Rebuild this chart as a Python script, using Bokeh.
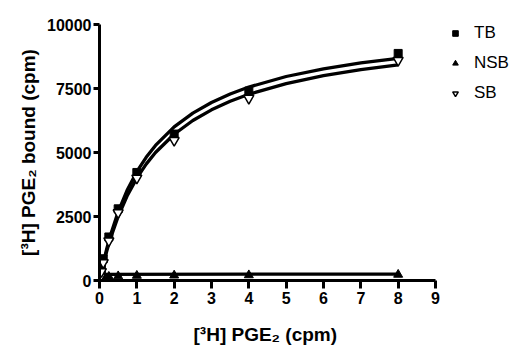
from bokeh.plotting import figure
from bokeh.models import Range1d, Legend, LegendItem, FixedTicker, Title
from bokeh.embed import file_html
from bokeh.resources import INLINE

# measured points
conc = [0.025, 0.05, 0.1, 0.25, 0.5, 1, 2, 4, 8]
tb = [200, 450, 850, 1700, 2800, 4220, 5720, 7400, 8870]
nsb = [60, 100, 130, 150, 170, 190, 200, 210, 230]
sb = [150, 350, 700, 1550, 2650, 4000, 5470, 7120, 8600]

# fitted curves
fit_x = [0, 0.05, 0.1, 0.2, 0.3, 0.5, 0.75, 1, 1.25, 1.5, 2, 2.5, 3, 3.5, 4, 5, 6, 7, 8]
tb_fit = [0, 352, 680, 1275, 1800, 2684, 3558, 4250, 4811, 5276, 6000, 6538, 6955, 7286, 7556, 7969, 8270, 8500, 8681]
sb_fit = [0, 323, 625, 1176, 1667, 2500, 3333, 4000, 4545, 5000, 5714, 6250, 6667, 7000, 7273, 7692, 8000, 8235, 8421]
nsb_fit_x = [0, 8]
nsb_fit = [240, 250]

x_ticks = [0, 1, 2, 3, 4, 5, 6, 7, 8, 9]
y_ticks = [0, 2500, 5000, 7500, 10000]

FONT = "Liberation Sans"

# frame extends past x=9 so the legend (right of the axis end) is not clipped
p = figure(width=524, height=360, output_backend="svg", toolbar_location=None,
           x_range=Range1d(0, 11.143), y_range=Range1d(0, 10000),
           min_border_left=99, min_border_right=9, min_border_top=24, min_border_bottom=80)
p.outline_line_color = None
p.xgrid.visible = False
p.ygrid.visible = False

p.line(fit_x, tb_fit, line_color="black", line_width=3.3)
p.line(fit_x, sb_fit, line_color="black", line_width=3.3)
p.line(nsb_fit_x, nsb_fit, line_color="black", line_width=3.3)

r_tb = p.scatter(conc, tb, marker="square", size=8, fill_color="black", line_color="black")
r_nsb = p.scatter(conc, nsb, marker="triangle", size=9, fill_color="black", line_color="black")
r_sb = p.scatter(conc, sb, marker="inverted_triangle", size=10, fill_color="white", line_color="black", line_width=1.5)

for ax in (p.xaxis[0], p.yaxis[0]):
    ax.axis_line_width = 3
    ax.major_tick_line_width = 3
    ax.major_tick_in = 0
    ax.minor_tick_line_color = None
    ax.major_label_text_font = FONT
    ax.major_label_text_font_style = "bold"
    ax.major_label_text_font_size = "16px"
    ax.major_label_text_color = "black"
    ax.axis_label_text_font = FONT
    ax.axis_label_text_font_style = "bold"
    ax.axis_label_text_font_size = "19px"
    ax.axis_label_text_color = "black"

p.xaxis[0].ticker = FixedTicker(ticks=x_ticks)
p.xaxis[0].bounds = (0, 9)
p.yaxis[0].ticker = FixedTicker(ticks=y_ticks)
p.xaxis[0].major_tick_out = 8
p.yaxis[0].major_tick_out = 6
p.xaxis[0].major_label_standoff = 3
p.yaxis[0].major_label_standoff = 2
p.yaxis[0].axis_label = "[³H] PGE₂ bound (cpm)"
p.yaxis[0].axis_label_standoff = 5

# x-axis title, aligned under the 0..9 axis rather than the wider frame
xt = Title(text="[³H] PGE₂  (cpm)", align="left", offset=94, standoff=31,
           text_font=FONT, text_font_style="bold", text_font_size="19px", text_color="black")
p.add_layout(xt, "below")

legend = Legend(items=[LegendItem(label="TB", renderers=[r_tb]),
                       LegendItem(label="NSB", renderers=[r_nsb]),
                       LegendItem(label="SB", renderers=[r_sb])],
                location=(349, 177), orientation="vertical")
legend.background_fill_alpha = 0
legend.border_line_color = None
legend.padding = 0
legend.margin = 0
legend.spacing = 10
legend.glyph_width = 14
legend.glyph_height = 20
legend.label_height = 20
legend.label_standoff = 12
legend.label_text_font = FONT
legend.label_text_font_size = "17px"
legend.label_text_color = "black"
p.add_layout(legend)

open("out.html", "w").write(file_html(p, INLINE))
